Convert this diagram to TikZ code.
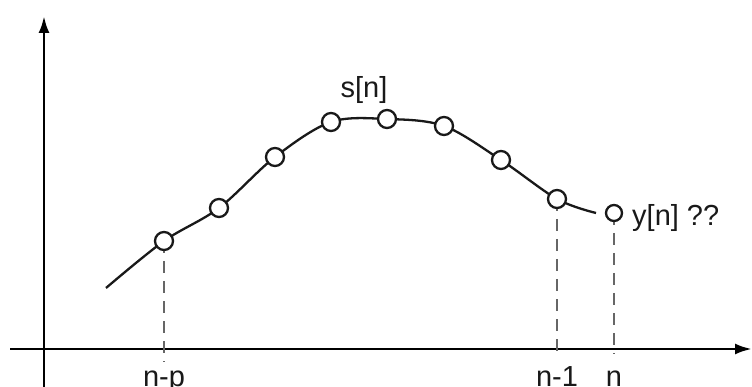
\documentclass[tikz,border=0pt]{standalone}
\usepackage{fontspec}
\setmainfont{Liberation Sans}
\usetikzlibrary{arrows.meta}
\usetikzlibrary{positioning}

\begin{document}
\begin{tikzpicture}[x=1pt,y=-1pt,
    axis/.style={line width=2.8pt,-{Latex[length=17pt,width=11pt]}},
    curve/.style={line width=2.3pt,black!90},
    sample/.style={line width=2.3pt,black!90,fill=white},
    guide/.style={line width=1.2pt,black!60,dash pattern=on 12pt off 8pt},
    lbl/.style={font=\fontsize{29}{31}\selectfont,inner sep=0pt,text=black!90}]
            \useasboundingbox (0,0) rectangle (752,387);

            \coordinate (O) at (44,349);
            \coordinate (S) at (106,288);
            \coordinate (P1) at (164,241);
            \coordinate (P2) at (219,208);
            \coordinate (P3) at (275,157);
            \coordinate (P4) at (331,122);
            \coordinate (P5) at (387,119);
            \coordinate (P6) at (444,126);
            \coordinate (P7) at (501,160);
            \coordinate (P8) at (557,199);
            \coordinate (E) at (596,213);
            \coordinate (Y) at (614,213);

            % axes
            \draw[axis] (44,387) -- (44,16);
            \draw[axis] (10,349) -- (752,349);

            % guides down to the time axis
            \draw[guide] (P1) -- (P1 |- 0,362);
            \draw[guide] (P8) -- (P8 |- 0,358);
            \draw[guide] (Y) -- (Y |- 0,354);

            \draw[curve] plot[smooth,tension=0.55] coordinates
                {(S) (P1) (P2) (P3) (P4) (P5) (P6) (P7) (P8) (E)};

            \foreach \p in {P1,P2,P3,P4,P5,P6,P7,P8}
                \draw[sample] (\p) circle (9);
            \draw[sample] (Y) circle (8);

            \node[lbl,anchor=base] (snlbl) at (364,98) {s[n]};
            \node[lbl,anchor=base west] (ynlbl) at (632,226) {y[n] ??};
            \node[lbl,anchor=base] (nplbl) at (164,386) {n-p};
            \node[lbl,anchor=base] (n1lbl) at (557,386) {n-1};
            \node[lbl,anchor=base] (nlbl) at (614,386) {n};
        \end{tikzpicture}
\end{document}
